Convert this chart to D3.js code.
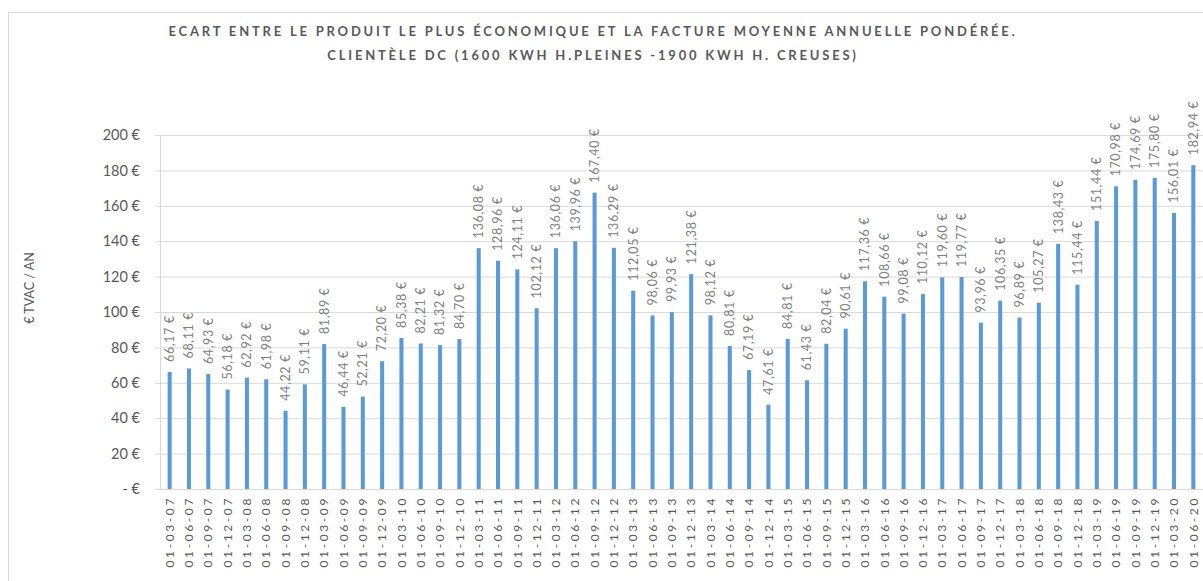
<!DOCTYPE html>
<html>
<head>
<meta charset="utf-8">
<script src="https://cdn.jsdelivr.net/npm/d3@7"></script>
<style>
  body { margin: 0; background: #fff; }
  svg { display: block; font-family: Lato, "Open Sans", sans-serif; }
</style>
</head>
<body>
<figure id="chart" style="margin:0"></figure>
<script>
// quarterly dates, 2007 -> 2020
var dates = [
  "01-03-07","01-06-07","01-09-07","01-12-07",
  "01-03-08","01-06-08","01-09-08","01-12-08",
  "01-03-09","01-06-09","01-09-09","01-12-09",
  "01-03-10","01-06-10","01-09-10","01-12-10",
  "01-03-11","01-06-11","01-09-11","01-12-11",
  "01-03-12","01-06-12","01-09-12","01-12-12",
  "01-03-13","01-06-13","01-09-13","01-12-13",
  "01-03-14","01-06-14","01-09-14","01-12-14",
  "01-03-15","01-06-15","01-09-15","01-12-15",
  "01-03-16","01-06-16","01-09-16","01-12-16",
  "01-03-17","01-06-17","01-09-17","01-12-17",
  "01-03-18","01-06-18","01-09-18","01-12-18",
  "01-03-19","01-06-19","01-09-19","01-12-19",
  "01-03-20","01-06-20"
];

var ecart = [
  66.17, 68.11, 64.93, 56.18,
  62.92, 61.98, 44.22, 59.11,
  81.89, 46.44, 52.21, 72.20,
  85.38, 82.21, 81.32, 84.70,
  136.08, 128.96, 124.11, 102.12,
  136.06, 139.96, 167.40, 136.29,
  112.05, 98.06, 99.93, 121.38,
  98.12, 80.81, 67.19, 47.61,
  84.81, 61.43, 82.04, 90.61,
  117.36, 108.66, 99.08, 110.12,
  119.60, 119.77, 93.96, 106.35,
  96.89, 105.27, 138.43, 115.44,
  151.44, 170.98, 174.69, 175.80,
  156.01, 182.94
];

var yTicks = [0, 20, 40, 60, 80, 100, 120, 140, 160, 180, 200];

var titleLines = [
  "ECART ENTRE LE PRODUIT LE PLUS ÉCONOMIQUE ET LA FACTURE MOYENNE ANNUELLE PONDÉRÉE.",
  "CLIENTÈLE DC (1600 KWH H.PLEINES -1900 KWH H. CREUSES)"
];
var yTitle = "€ TVAC / AN";

var data = dates.map(function (d, i) { return { date: d, value: ecart[i] }; });

var width = 1203, height = 581;
var plot = { left: 160, right: 1203, top: 135, bottom: 489 };

var svg = d3.select("figure#chart")
  .append("svg")
  .attr("width", width)
  .attr("height", height);

// chart frame
svg.append("rect")
  .attr("x", 8.5).attr("y", 12.5)
  .attr("width", 1220).attr("height", 620)
  .attr("fill", "none")
  .attr("stroke", "#d9d9d9");

var xScale = d3.scaleBand()
  .domain(dates)
  .range([plot.left, plot.right])
  .paddingInner(0.79)
  .paddingOuter(0.395);

var yScale = d3.scaleLinear()
  .domain([0, 200])
  .range([plot.bottom, plot.top]);

var fmt = function (v) {
  if (v === 0) return "-  €";
  return d3.format(",.0f")(v) + "  €";
};

// grid + y axis
var yAxis = svg.append("g")
  .attr("transform", `translate(${plot.left},0)`)
  .call(d3.axisLeft(yScale).tickValues(yTicks).tickSize(5).tickPadding(15).tickFormat(fmt));
yAxis.select(".domain").attr("stroke", "#d9d9d9");
yAxis.selectAll(".tick line").attr("stroke", "#d9d9d9");
yAxis.selectAll(".tick").append("line")
  .attr("x1", 0).attr("x2", plot.right - plot.left)
  .attr("stroke", "#d9d9d9");
yAxis.selectAll(".tick text")
  .attr("fill", "#595959")
  .style("font-size", "14.5px")
  .style("font-family", "Lato, sans-serif");

// bars
svg.selectAll("rect.bar")
  .data(data)
  .enter()
  .append("rect")
  .attr("class", "bar")
  .attr("x", d => xScale(d.date))
  .attr("width", xScale.bandwidth())
  .attr("y", d => yScale(d.value))
  .attr("height", d => yScale(0) - yScale(d.value))
  .attr("fill", "#5b9bd5");

// x axis
var xAxis = svg.append("g")
  .attr("transform", `translate(0,${plot.bottom})`)
  .call(d3.axisBottom(xScale).tickSize(0).tickPadding(0));
xAxis.select(".domain").attr("stroke", "#d9d9d9").attr("d", `M${plot.left - 5},0.5H${plot.right}`);
xAxis.selectAll(".tick text")
  .attr("fill", "#595959")
  .attr("transform", "rotate(-90)")
  .attr("x", -7)
  .attr("y", 0)
  .attr("dy", "0.35em")
  .style("text-anchor", "end")
  .style("font-size", "12px")
  .style("letter-spacing", "2.6px")
  .style("font-family", "Lato, sans-serif");

// value labels
svg.selectAll("text.lbl")
  .data(data)
  .enter()
  .append("text")
  .attr("class", "lbl")
  .attr("transform", d => `translate(${xScale(d.date) + xScale.bandwidth() / 2},${yScale(d.value) - 10}) rotate(-90)`)
  .attr("dy", "0.35em")
  .attr("fill", "#7f7f7f")
  .style("font-size", "12.5px")
  .style("letter-spacing", "0.6px")
  .text(d => d3.format(".2f")(d.value).replace(".", ",") + " €");

// y title
svg.append("text")
  .attr("transform", "translate(30,288) rotate(-90)")
  .attr("text-anchor", "middle")
  .attr("dy", "0.35em")
  .attr("fill", "#595959")
  .style("font-size", "12.5px")
  .text(yTitle);

// title
svg.selectAll("text.title")
  .data(titleLines)
  .enter()
  .append("text")
  .attr("class", "title")
  .attr("x", 593)
  .attr("y", (d, i) => 36 + i * 24)
  .attr("text-anchor", "middle")
  .attr("fill", "#595959")
  .style("font-size", "13px")
  .style("font-weight", "bold")
  .style("letter-spacing", "2.8px")
  .text(d => d);
</script>
</body>
</html>
